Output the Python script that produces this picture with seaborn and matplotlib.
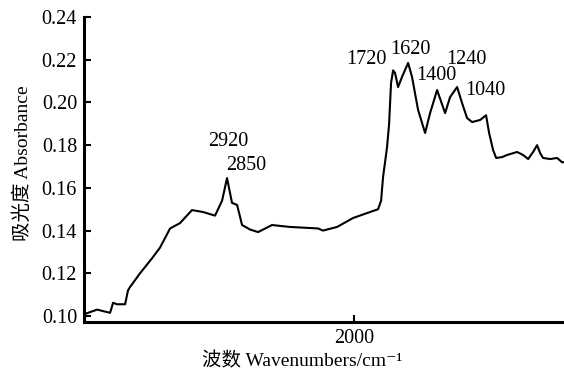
import matplotlib
matplotlib.use("Agg")
import matplotlib.pyplot as plt
import seaborn as sns
import pandas as pd

# ---- data ----
wavenumber = [3950, 3863, 3769, 3747, 3718, 3660, 3639, 3624, 3552, 3465, 3407,
              3334, 3262, 3175, 3095, 3008, 2957, 2921, 2885, 2848, 2812, 2754,
              2696, 2595, 2464, 2261, 2225, 2123, 2007, 1884, 1826, 1804, 1790,
              1761, 1746, 1732, 1717, 1703, 1681, 1652, 1608, 1580, 1536, 1485,
              1449, 1398, 1340, 1304, 1253, 1217, 1181, 1144, 1086, 1043, 1021,
              992, 970, 927, 891, 818, 775, 738, 702, 673, 651, 630, 579, 528,
              492, 478]
absorbance = [0.101, 0.103, 0.1015, 0.1062, 0.1055, 0.1055, 0.112, 0.1136, 0.120,
              0.127, 0.132, 0.141, 0.1435, 0.1496, 0.1487, 0.147, 0.154, 0.1646,
              0.153, 0.152, 0.1426, 0.1405, 0.1393, 0.1426, 0.1417, 0.141, 0.140,
              0.1417, 0.1459, 0.1487, 0.150, 0.154, 0.165, 0.179, 0.190, 0.209,
              0.215, 0.2138, 0.2072, 0.212, 0.2185, 0.212, 0.1965, 0.1857, 0.195,
              0.2058, 0.195, 0.2025, 0.2072, 0.1997, 0.1927, 0.1908, 0.1918, 0.194,
              0.1857, 0.1777, 0.174, 0.1744, 0.1754, 0.1768, 0.1754, 0.1735, 0.1768,
              0.180, 0.1763, 0.174, 0.1735, 0.174, 0.172, 0.172]

peak_labels = ["2920", "2850", "1720", "1620", "1400", "1240", "1040"]
peak_label_x = [2914, 2783, 1913, 1594, 1405, 1188, 1050]
peak_label_y = [0.1817, 0.1707, 0.2201, 0.2248, 0.2126, 0.2201, 0.2056]

x_ticks = [2000]
y_ticks = [0.10, 0.12, 0.14, 0.16, 0.18, 0.20, 0.22, 0.24]
y_tick_labels = ["0.10", "0.12", "0.14", "0.16", "0.18", "0.20", "0.22", "0.24"]

xlabel = "波数 Wavenumbers/cm\u207b\u00b9"
ylabel = "吸光度 Absorbance"

# ---- style ----
sns.set_theme(style="ticks")
plt.rcParams["font.family"] = ["Liberation Serif", "Noto Sans CJK SC", "DejaVu Sans"]

df = pd.DataFrame({"wavenumber": wavenumber, "absorbance": absorbance})

fig = plt.figure(figsize=(5.64, 3.78), dpi=100)
ax = fig.add_axes([84 / 564, 1 - 322 / 378, 480 / 564, 305 / 378])

sns.lineplot(data=df, x="wavenumber", y="absorbance", ax=ax,
             color="black", linewidth=1.5, sort=False)

ax.set_xlim(3958, 478)
ax.set_ylim(0.0972, 0.24)

ax.set_xticks(x_ticks)
ax.set_xticklabels([str(t) for t in x_ticks])
ax.set_yticks(y_ticks)
ax.set_yticklabels(y_tick_labels)

for side in ["top", "right"]:
    ax.spines[side].set_visible(False)
for side in ["left", "bottom"]:
    ax.spines[side].set_linewidth(2.2)
    ax.spines[side].set_color("black")

ax.tick_params(axis="both", direction="in", length=5, width=1.5,
               labelsize=14.5, colors="black", pad=5)

for lab, px, py in zip(peak_labels, peak_label_x, peak_label_y):
    ax.text(px, py, lab, ha="center", va="center", fontsize=14.5, color="black")

ax.set_xlabel(xlabel, fontsize=14, color="black")
ax.set_ylabel(ylabel, fontsize=14, color="black")
ax.xaxis.set_label_coords((302 - 84) / 480, (322 - 361) / 305)
ax.xaxis.label.set_va("center")
ax.yaxis.set_label_coords((23 - 84) / 480, (322 - 163) / 305)
ax.yaxis.label.set_va("center")

ax.grid(False)
fig.savefig("out.png", dpi=100, facecolor="white")
